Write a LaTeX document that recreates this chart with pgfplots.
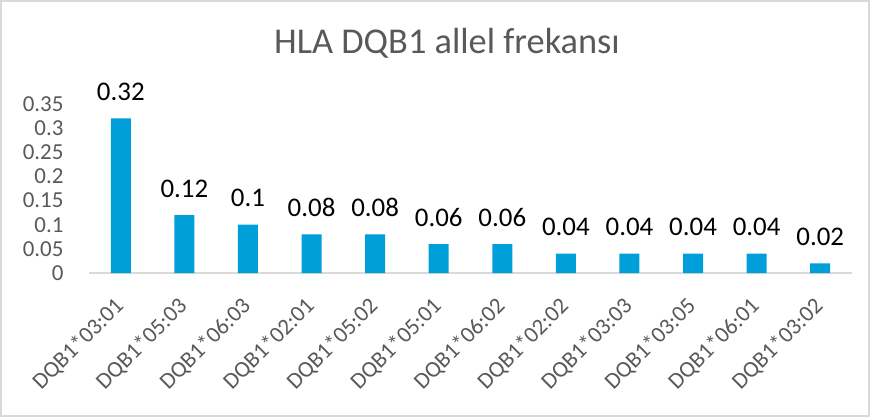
\documentclass[border=0pt]{standalone}
\usepackage{fontspec}
\setmainfont{Carlito}
\usepackage{pgfplots}
\pgfplotsset{compat=1.18}
\definecolor{barblue}{HTML}{009FDA}
\definecolor{txtgray}{HTML}{595959}
\definecolor{axgray}{HTML}{D9D9D9}
\begin{document}
\begin{tikzpicture}[x=1bp,y=1bp]
\useasboundingbox (0,0) rectangle (870,417);
\draw[axgray, line width=1.2bp] (1,1) rectangle (869,416);
\node[txtgray, font=\fontsize{36.5}{40}\selectfont] at (447,374) {HLA DQB1 allel frekansı};
\begin{axis}[
  at={(89bp,144bp)}, anchor=south west,
  scale only axis, width=763bp, height=169bp,
  xmin=-0.5, xmax=11.5, ymin=0, ymax=0.35,
  ybar, bar width=20bp,
  axis x line*=bottom, axis y line*=left,
  x axis line style={axgray, line width=1.2bp, -},
  y axis line style={draw=none},
  xtick=data, xtick style={draw=none}, ytick style={draw=none},
  ytick={0,0.05,...,0.35},
  yticklabels={0,0.05,0.1,0.15,0.2,0.25,0.3,0.35},
  xticklabels={DQB1*03:01,DQB1*05:03,DQB1*06:03,DQB1*02:01,DQB1*05:02,DQB1*05:01,DQB1*06:02,DQB1*02:02,DQB1*03:03,DQB1*03:05,DQB1*06:01,DQB1*03:02},
  x tick label style={rotate=45, anchor=north east, font=\fontsize{23}{25}\selectfont, text=txtgray, xshift=-17.5bp, yshift=-6.5bp, inner sep=1bp},
  y tick label style={font=\fontsize{23}{25}\selectfont, text=txtgray, xshift=-22bp},
  nodes near coords, point meta=explicit symbolic,
  every node near coord/.append style={font=\fontsize{27}{30}\selectfont, black, yshift=14bp},
  clip=false,
]
\addplot[fill=barblue, draw=none] coordinates {
 (0,0.32) [0.32] (1,0.12) [0.12] (2,0.10) [0.1] (3,0.08) [0.08] (4,0.08) [0.08] (5,0.06) [0.06]
 (6,0.06) [0.06] (7,0.04) [0.04] (8,0.04) [0.04] (9,0.04) [0.04] (10,0.04) [0.04] (11,0.02) [0.02]};
\end{axis}
\end{tikzpicture}
\end{document}
